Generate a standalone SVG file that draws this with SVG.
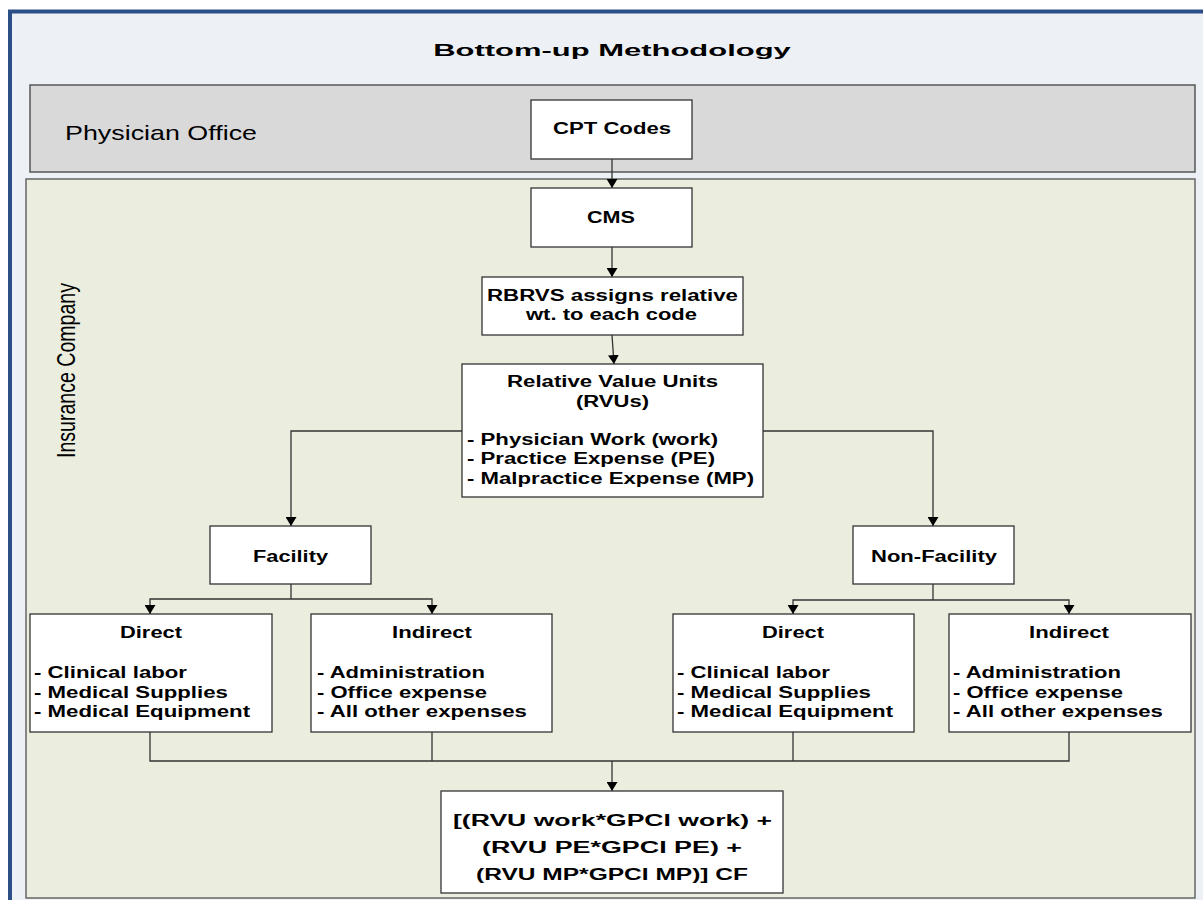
<svg xmlns="http://www.w3.org/2000/svg" width="1203" height="900" viewBox="0 0 1203 900">
  <defs>
    <marker id="arrow" viewBox="0 0 9 11" refX="9" refY="5.5" markerWidth="9" markerHeight="11" markerUnits="userSpaceOnUse" orient="auto" preserveAspectRatio="none">
      <path d="M0,0 L9,5.5 L0,11 z" fill="#000"/>
    </marker>
  </defs>
  <style>
    .box { fill: #ffffff; stroke: #333333; stroke-width: 1.3; }
    .t { font-family: "Liberation Sans", Arial, sans-serif; font-weight: bold; font-size: 17px; fill: #000; }
    .c { text-anchor: middle; }
    .conn { fill: none; stroke: #333333; stroke-width: 1.3; }
    .arr { marker-end: url(#arrow); }
  </style>

  <!-- page frame -->
  <rect x="0" y="0" width="1203" height="900" fill="#ffffff"/>
  <rect id="frame" x="10" y="11.5" width="1300" height="1000" fill="#EDF0F5" stroke="#2B4F86" stroke-width="4"/>
  <text class="t c" transform="translate(612,56) scale(1.3,1)" font-size="22.5" textLength="275" lengthAdjust="spacingAndGlyphs">Bottom-up Methodology</text>

  <!-- swimlanes -->
  <g id="lane-physician">
    <rect x="30" y="85" width="1165" height="87" fill="#D9D9D9" stroke="#555555" stroke-width="1.5"/>
    <text transform="translate(65,140) scale(1.3,1)" font-family="Liberation Sans, Arial, sans-serif" font-size="20" fill="#000" textLength="147.7" lengthAdjust="spacingAndGlyphs">Physician Office</text>
  </g>
  <g id="lane-insurance">
    <rect x="26" y="179" width="1169" height="719" fill="#EBEEDE" stroke="#666666" stroke-width="1.5"/>
    <text transform="translate(75,370.5) rotate(-90)" text-anchor="middle" font-family="Liberation Sans, Arial, sans-serif" font-size="25" fill="#000" textLength="175" lengthAdjust="spacingAndGlyphs">Insurance Company</text>
  </g>

  <!-- connectors -->
  <g id="connectors">
    <line class="conn arr" x1="612" y1="159" x2="612" y2="188"/>
    <line class="conn arr" x1="612" y1="247" x2="612" y2="277"/>
    <line class="conn arr" x1="612" y1="335" x2="614" y2="364"/>
    <polyline class="conn arr" points="462,431 291,431 291,526"/>
    <polyline class="conn arr" points="763,431 933,431 933,526"/>
    <line class="conn" x1="291" y1="584" x2="291" y2="599"/>
    <polyline class="conn arr" points="291,599 150,599 150,614"/>
    <polyline class="conn arr" points="291,599 432,599 432,614"/>
    <line class="conn" x1="933" y1="584" x2="933" y2="600"/>
    <polyline class="conn arr" points="933,600 793,600 793,614"/>
    <polyline class="conn arr" points="933,600 1069,600 1069,614"/>
    <polyline class="conn" points="150,732 150,761 1069,761 1069,732"/>
    <line class="conn" x1="432" y1="732" x2="432" y2="761"/>
    <line class="conn" x1="793" y1="732" x2="793" y2="761"/>
    <line class="conn arr" x1="612" y1="761" x2="612" y2="791"/>
  </g>

  <!-- nodes -->
  <g id="cpt">
    <rect class="box" x="531" y="100" width="161" height="59"/>
    <text class="t c" transform="translate(612,134) scale(1.3,1)" textLength="90.8" lengthAdjust="spacingAndGlyphs">CPT Codes</text>
  </g>
  <g id="cms">
    <rect class="box" x="531" y="188" width="161" height="59"/>
    <text class="t c" transform="translate(611,223) scale(1.3,1)" textLength="36.9" lengthAdjust="spacingAndGlyphs">CMS</text>
  </g>
  <g id="rbrvs">
    <rect class="box" x="482" y="277" width="261" height="58"/>
    <text class="t c" transform="translate(612.5,301) scale(1.3,1)" textLength="193.1" lengthAdjust="spacingAndGlyphs">RBRVS assigns relative</text>
    <text class="t c" transform="translate(611.5,320) scale(1.3,1)" textLength="131.5" lengthAdjust="spacingAndGlyphs">wt. to each code</text>
  </g>
  <g id="rvu">
    <rect class="box" x="462" y="364" width="301" height="133"/>
    <text class="t c" transform="translate(612.5,387) scale(1.3,1)" textLength="162.3" lengthAdjust="spacingAndGlyphs">Relative Value Units</text>
    <text class="t c" transform="translate(612.5,407) scale(1.3,1)" textLength="56.2" lengthAdjust="spacingAndGlyphs">(RVUs)</text>
    <text class="t" transform="translate(467,445) scale(1.3,1)" textLength="193.1" lengthAdjust="spacingAndGlyphs">- Physician Work (work)</text>
    <text class="t" transform="translate(467,464) scale(1.3,1)" textLength="190.8" lengthAdjust="spacingAndGlyphs">- Practice Expense (PE)</text>
    <text class="t" transform="translate(467,484) scale(1.3,1)" textLength="220.8" lengthAdjust="spacingAndGlyphs">- Malpractice Expense (MP)</text>
  </g>
  <g id="facility">
    <rect class="box" x="210" y="526" width="161" height="58"/>
    <text class="t c" transform="translate(290.5,562) scale(1.3,1)" textLength="57.7" lengthAdjust="spacingAndGlyphs">Facility</text>
  </g>
  <g id="non-facility">
    <rect class="box" x="853" y="526" width="161" height="58"/>
    <text class="t c" transform="translate(934,562) scale(1.3,1)" textLength="96.9" lengthAdjust="spacingAndGlyphs">Non-Facility</text>
  </g>
  <g id="facility-direct">
    <rect class="box" x="30" y="614" width="242" height="118"/>
    <text class="t c" transform="translate(151,638) scale(1.3,1)" textLength="47.7" lengthAdjust="spacingAndGlyphs">Direct</text>
    <text class="t" transform="translate(34,678) scale(1.3,1)" textLength="117.7" lengthAdjust="spacingAndGlyphs">- Clinical labor</text>
    <text class="t" transform="translate(34,698) scale(1.3,1)" textLength="149.2" lengthAdjust="spacingAndGlyphs">- Medical Supplies</text>
    <text class="t" transform="translate(34,717) scale(1.3,1)" textLength="166.2" lengthAdjust="spacingAndGlyphs">- Medical Equipment</text>
  </g>
  <g id="facility-indirect">
    <rect class="box" x="311" y="614" width="241" height="118"/>
    <text class="t c" transform="translate(432,638) scale(1.3,1)" textLength="61.5" lengthAdjust="spacingAndGlyphs">Indirect</text>
    <text class="t" transform="translate(317,678) scale(1.3,1)" textLength="129.2" lengthAdjust="spacingAndGlyphs">- Administration</text>
    <text class="t" transform="translate(317,698) scale(1.3,1)" textLength="130.8" lengthAdjust="spacingAndGlyphs">- Office expense</text>
    <text class="t" transform="translate(317,717) scale(1.3,1)" textLength="161.5" lengthAdjust="spacingAndGlyphs">- All other expenses</text>
  </g>
  <g id="nonfacility-direct">
    <rect class="box" x="673" y="614" width="241" height="118"/>
    <text class="t c" transform="translate(793,638) scale(1.3,1)" textLength="47.7" lengthAdjust="spacingAndGlyphs">Direct</text>
    <text class="t" transform="translate(677,678) scale(1.3,1)" textLength="117.7" lengthAdjust="spacingAndGlyphs">- Clinical labor</text>
    <text class="t" transform="translate(677,698) scale(1.3,1)" textLength="149.2" lengthAdjust="spacingAndGlyphs">- Medical Supplies</text>
    <text class="t" transform="translate(677,717) scale(1.3,1)" textLength="166.2" lengthAdjust="spacingAndGlyphs">- Medical Equipment</text>
  </g>
  <g id="nonfacility-indirect">
    <rect class="box" x="949" y="614" width="242" height="118"/>
    <text class="t c" transform="translate(1069,638) scale(1.3,1)" textLength="61.5" lengthAdjust="spacingAndGlyphs">Indirect</text>
    <text class="t" transform="translate(953,678) scale(1.3,1)" textLength="129.2" lengthAdjust="spacingAndGlyphs">- Administration</text>
    <text class="t" transform="translate(953,698) scale(1.3,1)" textLength="130.8" lengthAdjust="spacingAndGlyphs">- Office expense</text>
    <text class="t" transform="translate(953,717) scale(1.3,1)" textLength="161.5" lengthAdjust="spacingAndGlyphs">- All other expenses</text>
  </g>
  <g id="formula">
    <rect class="box" x="441" y="791" width="342" height="102"/>
    <text class="t c" transform="translate(612.5,826) scale(1.3,1)" font-size="20" textLength="245.4" lengthAdjust="spacingAndGlyphs">[(RVU work*GPCI work) +</text>
    <text class="t c" transform="translate(612,853) scale(1.3,1)" font-size="20" textLength="200" lengthAdjust="spacingAndGlyphs">(RVU PE*GPCI PE) +</text>
    <text class="t c" transform="translate(612,880) scale(1.3,1)" font-size="20" textLength="209.2" lengthAdjust="spacingAndGlyphs">(RVU MP*GPCI MP)] CF</text>
  </g>
</svg>
